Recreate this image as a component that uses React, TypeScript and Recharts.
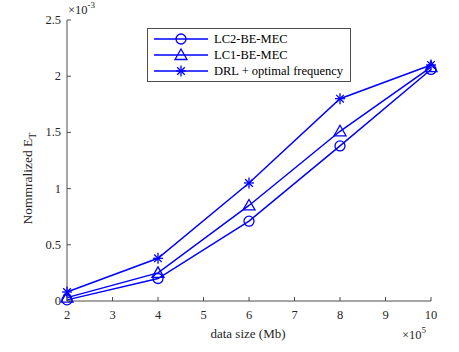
import React from 'react';
import { LineChart, Line, XAxis, YAxis, Label } from 'recharts';

// x values (x10^5 Mb) and normalized energy (x10^-3)
const dataSizes = [2, 4, 6, 8, 10];
const lc2Values = [0.01, 0.2, 0.71, 1.38, 2.06];
const lc1Values = [0.03, 0.25, 0.85, 1.51, 2.08];
const drlValues = [0.08, 0.38, 1.05, 1.8, 2.1];

const xTicks = [2, 3, 4, 5, 6, 7, 8, 9, 10];
const yTicks = [0, 0.5, 1, 1.5, 2, 2.5];
const seriesNames = ['LC2-BE-MEC', 'LC1-BE-MEC', 'DRL + optimal frequency'];

const data = dataSizes.map((x, i) => ({ x, lc2: lc2Values[i], lc1: lc1Values[i], drl: drlValues[i] }));

const BLUE = '#0000ff';
const AXIS = '#4d4d4d';
const FONT = 'Liberation Serif, serif';
const TICK = 4;

// plot area box
const PL = 67, PT = 20, PR = 431, PB = 301;

const CircleMark = ({ cx, cy }: any) => (
  <circle cx={cx} cy={cy} r={5} fill="none" stroke={BLUE} strokeWidth={1.3} />
);
const TriangleMark = ({ cx, cy }: any) => (
  <polygon points={`${cx},${cy - 6} ${cx - 6},${cy + 4.5} ${cx + 6},${cy + 4.5}`} fill="none" stroke={BLUE} strokeWidth={1.3} />
);
const StarMark = ({ cx, cy }: any) => (
  <g stroke={BLUE} strokeWidth={1.3}>
    <line x1={cx - 5} y1={cy} x2={cx + 5} y2={cy} />
    <line x1={cx} y1={cy - 5.5} x2={cx} y2={cy + 5.5} />
    <line x1={cx - 3.8} y1={cy - 3.8} x2={cx + 3.8} y2={cy + 3.8} />
    <line x1={cx - 3.8} y1={cy + 3.8} x2={cx + 3.8} y2={cy - 3.8} />
  </g>
);

const marks = [CircleMark, TriangleMark, StarMark];
const textStyle = { fontFamily: FONT, fill: '#262626' };

// inward ticks with labels
const BottomTick = ({ x, y, payload }: any) => (
  <g>
    <line x1={x} y1={y} x2={x} y2={y - TICK} stroke={AXIS} />
    <text x={x} y={y + 18} textAnchor="middle" fontSize={12.5} fontFamily={FONT} style={textStyle}>{payload.value}</text>
  </g>
);
const LeftTick = ({ x, y, payload }: any) => (
  <g>
    <line x1={x} y1={y} x2={x + TICK} y2={y} stroke={AXIS} />
    <text x={x - 6} y={y + 4} textAnchor="end" fontSize={12.5} fontFamily={FONT} style={textStyle}>{payload.value}</text>
  </g>
);
const TopTick = ({ x, y }: any) => <line x1={x} y1={y} x2={x} y2={y + TICK} stroke={AXIS} />;
const RightTick = ({ x, y }: any) => <line x1={x} y1={y} x2={x - TICK} y2={y} stroke={AXIS} />;

const LegendBox = () => (
  <div style={{ position: 'absolute', left: 147, top: 28, border: `1px solid ${AXIS}`, background: '#fff', padding: '2px 6px 2px 5px', fontFamily: FONT, fontSize: 12.5, color: '#000', width: 191, boxSizing: 'content-box' }}>
    {seriesNames.map((name, i) => {
      const Mark = marks[i];
      return (
        <div key={name} style={{ display: 'flex', alignItems: 'center', height: 16, whiteSpace: 'nowrap' }}>
          <svg width={58} height={16}>
            <line x1={1} y1={8} x2={55} y2={8} stroke={BLUE} strokeWidth={1.5} />
            <Mark cx={28} cy={8} />
          </svg>
          <span style={{ marginLeft: 3 }}>{name}</span>
        </div>
      );
    })}
  </div>
);

const App = () => (
  <div style={{ position: 'absolute', left: 0, top: 0, width: 459, height: 352, background: '#fff', fontFamily: FONT }}>
    <LineChart width={459} height={352} data={data} style={{ fontFamily: FONT }} margin={{ top: PT, right: 459 - PR, bottom: 352 - PB - 30, left: PL - 40 }}>
      <XAxis
        dataKey="x" type="number" domain={[2, 10]} ticks={xTicks} height={30}
        tickLine={false} tickSize={0} tickMargin={0} tick={<BottomTick />}
        axisLine={{ stroke: AXIS }}
      >
        <Label
          content={() => (
            <g>
              <text x={(PL + PR) / 2 - 1} y={PB + 37} textAnchor="middle" fontSize={13} fontFamily={FONT} style={textStyle}>data size (Mb)</text>
              <text x={PR - 29} y={PB + 38} fontSize={12.5} fontFamily={FONT} style={textStyle}>
                ×10<tspan dy={-6} fontSize={9}>5</tspan>
              </text>
            </g>
          )}
        />
      </XAxis>
      <XAxis
        xAxisId="top" orientation="top" dataKey="x" type="number" domain={[2, 10]} ticks={xTicks} height={0}
        tickLine={false} tickSize={0} tickMargin={0} tick={<TopTick />} axisLine={{ stroke: AXIS }}
      />
      <YAxis
        type="number" domain={[0, 2.5]} ticks={yTicks} width={40}
        tickLine={false} tickSize={0} tickMargin={0} tick={<LeftTick />} axisLine={{ stroke: AXIS }}
      >
        <Label
          content={() => (
            <g>
              <text transform={`translate(32, ${(PT + PB) / 2 + 18}) rotate(-90)`} textAnchor="middle" fontSize={13.5} fontFamily={FONT} style={textStyle}>
                Nommralized E<tspan dy={4} fontSize={10}>T</tspan>
              </text>
              <text x={PL + 1} y={PT - 6} fontSize={12.5} fontFamily={FONT} style={textStyle}>
                ×10<tspan dy={-6} fontSize={9}>-3</tspan>
              </text>
            </g>
          )}
        />
      </YAxis>
      <YAxis
        yAxisId="right" orientation="right" type="number" domain={[0, 2.5]} ticks={yTicks} width={0}
        tickLine={false} tickSize={0} tickMargin={0} tick={<RightTick />} axisLine={{ stroke: AXIS }}
      />
      <Line dataKey="lc2" name={seriesNames[0]} stroke={BLUE} strokeWidth={1.5} dot={<CircleMark />} activeDot={false} isAnimationActive={false} />
      <Line dataKey="lc1" name={seriesNames[1]} stroke={BLUE} strokeWidth={1.5} dot={<TriangleMark />} activeDot={false} isAnimationActive={false} />
      <Line dataKey="drl" name={seriesNames[2]} stroke={BLUE} strokeWidth={1.5} dot={<StarMark />} activeDot={false} isAnimationActive={false} />
    </LineChart>
    <LegendBox />
  </div>
);

export default App;
